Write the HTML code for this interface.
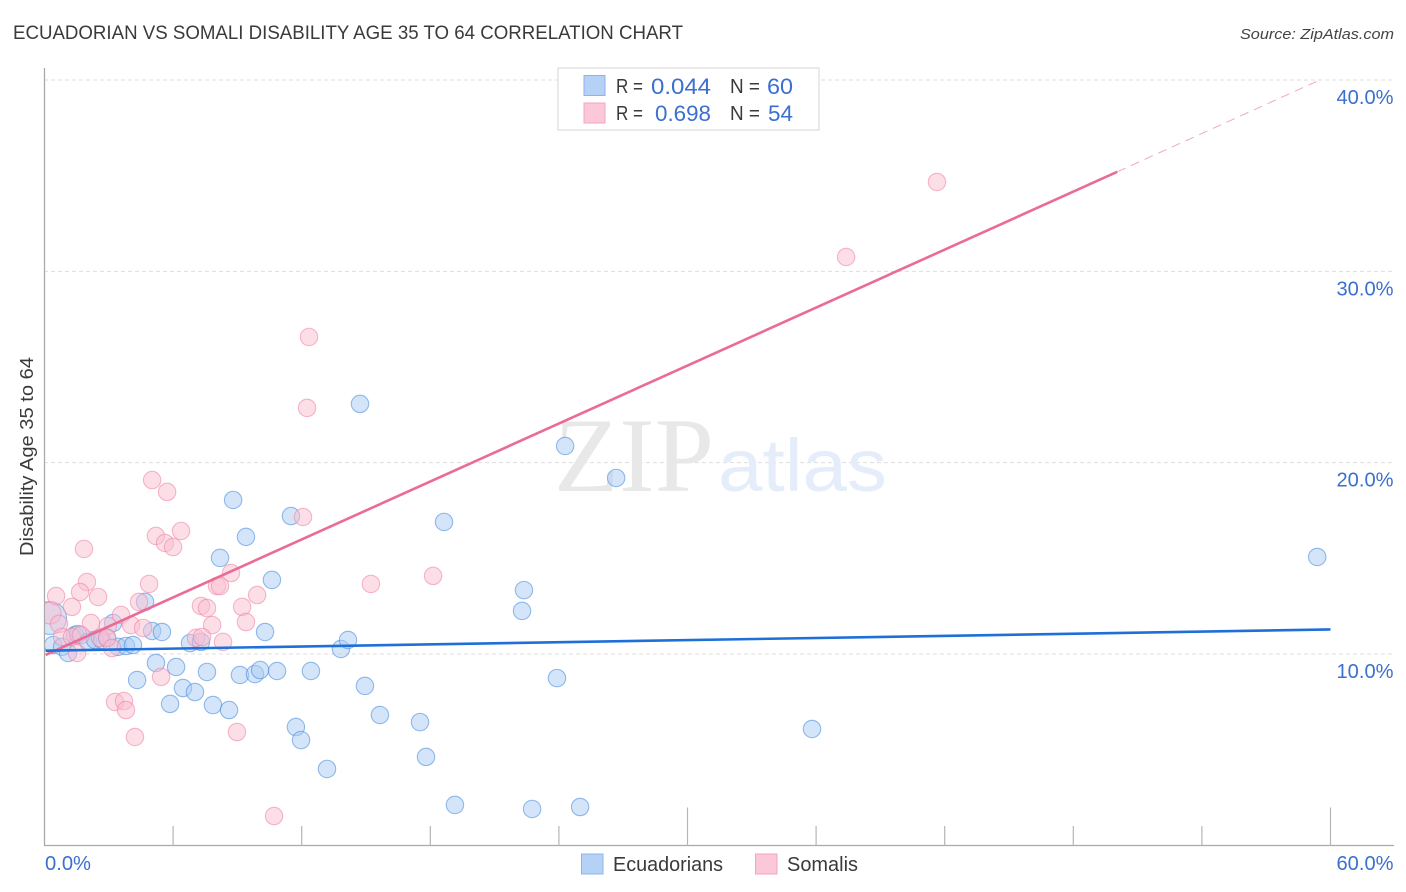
<!DOCTYPE html>
<html lang="en">
<head>
<meta charset="utf-8">
<title>Ecuadorian vs Somali Disability Age 35 to 64 Correlation Chart</title>
<style>
  html, body { margin: 0; padding: 0; background: #fff; }
  svg { display: block; font-family: "Liberation Sans", sans-serif; }
</style>
</head>
<body>
<svg id="chart" width="1406" height="892" viewBox="0 0 1406 892" xmlns="http://www.w3.org/2000/svg">
  <rect x="0" y="0" width="1406" height="892" fill="#ffffff"/>
  <text x="13" y="39" font-size="19" fill="#3a3a3a" textLength="670" lengthAdjust="spacingAndGlyphs">ECUADORIAN VS SOMALI DISABILITY AGE 35 TO 64 CORRELATION CHART</text>
  <text x="1394" y="39" font-size="15" font-style="italic" fill="#444" text-anchor="end" textLength="154" lengthAdjust="spacingAndGlyphs">Source: ZipAtlas.com</text>
  <g id="grid"></g>
  <g>
    <text x="554" y="491" font-size="106" font-family="'Liberation Serif', serif" fill="#e8e8e8" textLength="160" lengthAdjust="spacingAndGlyphs">ZIP</text>
    <text x="718" y="491" font-size="74" fill="#e4edf9" textLength="169" lengthAdjust="spacingAndGlyphs">atlas</text>
  </g>
  <g id="axes"></g>
  <g id="marks" clip-path="url(#plot-clip)"></g>
  <defs>
    <clipPath id="plot-clip"><rect x="45" y="60" width="1350" height="785"/></clipPath>
  </defs>
  <g>
    <rect x="558" y="68" width="261" height="62" fill="#fff" stroke="#ddd" stroke-width="1.2"/>
    <rect x="584" y="75.5" width="21" height="20" fill="#b5d1f5" stroke="#8db4e8" stroke-width="1"/>
    <rect x="584" y="103" width="21" height="20" fill="#fbc8d9" stroke="#f3a5be" stroke-width="1"/>
    <text x="616" y="93" font-size="20" fill="#3a3a3a" textLength="27" lengthAdjust="spacingAndGlyphs">R =</text>
    <text x="711" y="94" font-size="22" fill="#3b6fd0" text-anchor="end" textLength="60" lengthAdjust="spacingAndGlyphs">0.044</text>
    <text x="730" y="93" font-size="20" fill="#3a3a3a" textLength="30" lengthAdjust="spacingAndGlyphs">N =</text>
    <text x="793" y="94" font-size="22" fill="#3b6fd0" text-anchor="end" textLength="26" lengthAdjust="spacingAndGlyphs">60</text>
    <text x="616" y="120" font-size="20" fill="#3a3a3a" textLength="27" lengthAdjust="spacingAndGlyphs">R =</text>
    <text x="711" y="121" font-size="22" fill="#3b6fd0" text-anchor="end" textLength="56" lengthAdjust="spacingAndGlyphs">0.698</text>
    <text x="730" y="120" font-size="20" fill="#3a3a3a" textLength="30" lengthAdjust="spacingAndGlyphs">N =</text>
    <text x="793" y="121" font-size="22" fill="#3b6fd0" text-anchor="end" textLength="25" lengthAdjust="spacingAndGlyphs">54</text>
  </g>
  <text transform="translate(33,456.5) rotate(-90)" font-size="18.5" fill="#3a3a3a" text-anchor="middle" textLength="199" lengthAdjust="spacingAndGlyphs">Disability Age 35 to 64</text>
  <g>
    <rect x="581.5" y="854" width="21.5" height="20" fill="#b5d1f5" stroke="#8db4e8" stroke-width="1"/>
    <text x="613" y="871" font-size="20" fill="#3a3a3a" textLength="110" lengthAdjust="spacingAndGlyphs">Ecuadorians</text>
    <rect x="755.5" y="854" width="21.5" height="20" fill="#fbc8d9" stroke="#f3a5be" stroke-width="1"/>
    <text x="787" y="871" font-size="20" fill="#3a3a3a" textLength="71" lengthAdjust="spacingAndGlyphs">Somalis</text>
  </g>
</svg>
<script>
// ---- chart data (percent values) ----
const yTickValues = [10, 20, 30, 40];
const yTickLabels = ['10.0%', '20.0%', '30.0%', '40.0%'];
const xTickValues = [6, 12, 18, 24, 30, 36, 42, 48, 54, 60];
const xMajorTicks = [30, 60];
const xEndValues = [0, 60];
const xEndLabels = ['0.0%', '60.0%'];

const ecuadorianX = [0.26, 10.61, 4.69, 3.20, 5.02, 5.48, 10.29, 1.42, 1.56, 0.40, 0.82, 1.10, 2.03, 2.36, 2.68, 3.43, 3.80, 4.13, 6.79, 7.30, 5.20, 6.14, 7.58, 4.32, 9.12, 9.82, 10.06, 10.85, 12.43, 13.83, 14.16, 6.46, 7.02, 5.86, 7.86, 8.61, 11.73, 11.97, 13.18, 14.95, 15.65, 17.52, 17.80, 19.15, 22.75, 24.99, 35.81, 23.91, 22.28, 22.37, 18.64, 26.67, 24.29, 14.72, 8.80, 9.40, 11.50, 8.19, 59.38, 2.92];
const ecuadorianY = [11.88, 13.87, 12.72, 11.62, 11.20, 11.15, 11.15, 10.99, 11.04, 10.47, 10.37, 10.05, 10.63, 10.73, 10.73, 10.37, 10.42, 10.47, 10.57, 10.63, 9.53, 9.32, 9.06, 8.64, 8.90, 8.95, 9.16, 9.11, 9.11, 10.26, 10.73, 8.22, 8.01, 7.39, 7.33, 7.07, 6.18, 5.50, 3.99, 8.33, 6.81, 6.44, 4.62, 2.11, 1.90, 2.00, 6.08, 8.74, 12.25, 13.34, 16.90, 19.20, 20.87, 23.07, 18.05, 16.12, 17.21, 15.02, 15.07, 10.84];

const somaliX = [0.26, 41.64, 37.40, 12.34, 12.25, 5.02, 5.72, 6.37, 5.20, 5.62, 6.00, 12.06, 1.84, 18.13, 15.23, 8.70, 1.98, 4.88, 1.66, 0.54, 2.50, 8.05, 8.19, 9.92, 9.22, 7.30, 7.58, 1.28, 3.57, 4.41, 9.40, 7.82, 2.17, 2.96, 4.04, 4.60, 8.33, 7.07, 7.35, 5.44, 3.29, 3.71, 3.80, 4.22, 8.98, 10.71, 0.68, 0.82, 1.28, 1.70, 1.52, 2.59, 2.92, 3.15];
const somaliY = [12.14, 34.67, 30.75, 26.57, 22.86, 19.09, 18.47, 16.43, 16.17, 15.80, 15.59, 17.16, 15.49, 14.08, 13.66, 14.23, 13.76, 13.66, 13.24, 13.03, 12.98, 13.55, 13.55, 13.08, 12.46, 12.51, 12.40, 12.46, 12.04, 12.72, 11.67, 11.51, 11.62, 11.46, 11.51, 11.36, 10.63, 10.84, 10.89, 8.80, 7.49, 7.54, 7.07, 5.66, 5.92, 1.53, 11.57, 10.89, 10.89, 10.99, 10.05, 10.84, 10.84, 10.31];

const ecuadorianTrendX = [0.05, 60];
const ecuadorianTrendY = [10.17, 11.28];
const somaliTrendX = [0.05, 50.05];
const somaliTrendY = [9.95, 35.2];
const somaliProjectionX = [50.05, 59.5];
const somaliProjectionY = [35.2, 40];

// ---- axis functions ----
const xScale = v => 44.5 + v * (1330.5 - 44.5) / 60;
const yScale = v => 845.3 - v * (845.3 - 80) / 40;

const NS = 'http://www.w3.org/2000/svg';
const grid = document.getElementById('grid');
const axes = document.getElementById('axes');
const marks = document.getElementById('marks');

function make(tag, parent, attrs, text) {
  const el = document.createElementNS(NS, tag);
  for (const k in attrs) el.setAttribute(k, attrs[k]);
  if (text !== undefined) el.textContent = text;
  parent.appendChild(el);
  return el;
}

// gridlines and y tick labels
yTickValues.forEach((v, i) => {
  const line = make('line', grid, { x1: 44, x2: 1394, y1: yScale(v), y2: yScale(v), stroke: '#dedede', 'stroke-width': 1, 'stroke-dasharray': '4 3' });
  
  
  const label = make('text', axes, { x: 1393.5, y: yScale(v) + 24, 'font-size': 20.5, fill: '#3b6fd0', 'text-anchor': 'end', textLength: 57, lengthAdjust: 'spacingAndGlyphs' }, yTickLabels[i]);
  
  
});

// axis lines
const yAxisLine = make('line', axes, { x1: 44.5, x2: 44.5, y1: 68, y2: 845.5, stroke: '#aaaaaa', 'stroke-width': 1.3 });


const xAxisLine = make('line', axes, { x1: 44, x2: 1394, y1: 845.5, y2: 845.5, stroke: '#aaaaaa', 'stroke-width': 1.3 });



// x ticks
xTickValues.forEach(v => {
  const top = xMajorTicks.includes(v) ? 807.5 : 826;
  const tick = make('line', axes, { x1: xScale(v), x2: xScale(v), y1: top, y2: 845.5, stroke: '#b5b5b5', 'stroke-width': 1.2 });
  
  
});

// x end labels
xEndValues.forEach((v, i) => {
  const isFirst = i === 0;
  const label = make('text', axes, { x: isFirst ? 45 : 1393.5, y: 870, 'font-size': 20.5, fill: '#3b6fd0', 'text-anchor': isFirst ? 'start' : 'end', textLength: isFirst ? 46 : 57, lengthAdjust: 'spacingAndGlyphs' }, xEndLabels[i]);
  
  
});

// points
function drawPoints(xs, ys, fill, stroke, name, bigIndex, bigR) {
  xs.forEach((x, i) => {
    const pt = make('circle', marks, {
      cx: xScale(x), cy: yScale(ys[i]), r: i === bigIndex ? bigR : 8.7,
      fill: fill, 'fill-opacity': 0.5, stroke: stroke, 'stroke-opacity': 0.55, 'stroke-width': 1.1
    });
    
    
  });
}
drawPoints(ecuadorianX, ecuadorianY, '#a9cbf3', '#3f86dc', 'ecuadorian-point', 0, 16.5);
drawPoints(somaliX, somaliY, '#f9bdd0', '#ee7fa3', 'somali-point', 0, 11);

// trend lines
function drawLine(xs, ys, stroke, width, dash, name) {
  const attrs = { x1: xScale(xs[0]), y1: yScale(ys[0]), x2: xScale(xs[1]), y2: yScale(ys[1]), stroke: stroke, 'stroke-width': width };
  if (dash) attrs['stroke-dasharray'] = dash;
  const ln = make('line', marks, attrs);
  
  
}
drawLine(somaliProjectionX, somaliProjectionY, '#ecaac2', 1, '9 6', 'somali-trend-projection');
drawLine(somaliTrendX, somaliTrendY, '#ea6b97', 2.6, null, 'somali-trend-line');
drawLine(ecuadorianTrendX, ecuadorianTrendY, '#1f6fd8', 2.6, null, 'ecuadorian-trend-line');
</script>
</body>
</html>
